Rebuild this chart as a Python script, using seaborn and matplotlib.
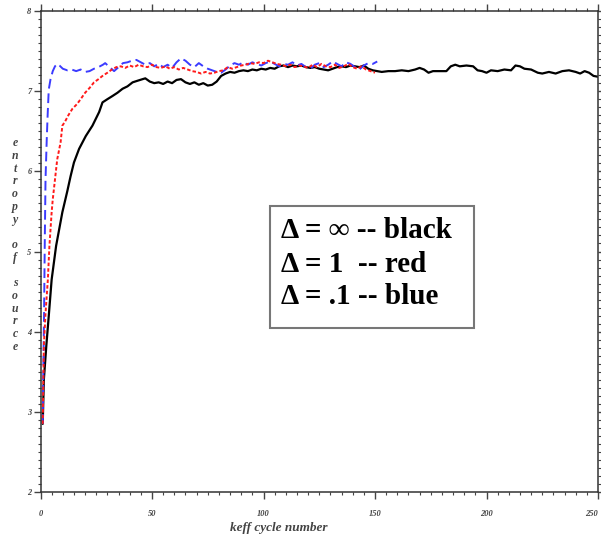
import matplotlib
matplotlib.use("Agg")
import matplotlib.pyplot as plt
from matplotlib.patches import Rectangle
from matplotlib.ticker import MultipleLocator
import seaborn as sns

# 1. DATA

black_x = ([1, 1.5, 2.6, 3.8, 5, 7, 9.8, 12, 13.5, 15, 17.3, 20.3, 23.3, 26.3, 27.8,
            30, 32.3, 34.5, 36.8, 39, 41.3, 43.5, 45.8]
           + list(range(47, 154, 2))
           + [156, 159, 162, 165, 168, 170, 172, 174, 176, 179, 182, 184, 186, 188,
              191, 194, 196, 198, 200, 202, 205, 208, 211, 213, 215, 217, 220, 223,
              225, 228, 231, 234, 237, 240, 242, 244, 246, 248, 250])
black_y = [2.85, 3.4, 3.82, 4.23, 4.65, 5.07, 5.49, 5.75, 5.94, 6.11, 6.28, 6.44, 6.57,
           6.74, 6.86, 6.9, 6.94, 6.98, 7.03, 7.06, 7.11, 7.13, 7.15,
           7.16, 7.12, 7.10, 7.11, 7.09, 7.12, 7.10, 7.14, 7.15, 7.11,
           7.09, 7.11, 7.08, 7.10, 7.07, 7.08, 7.12, 7.19, 7.22, 7.24,
           7.23, 7.25, 7.26, 7.25, 7.27, 7.26, 7.28, 7.27, 7.29, 7.28,
           7.31, 7.32, 7.30, 7.32, 7.31, 7.32, 7.30, 7.29, 7.30, 7.28,
           7.27, 7.26, 7.28, 7.30, 7.31, 7.30, 7.32, 7.31, 7.30, 7.32,
           7.28, 7.26, 7.25, 7.24,
           7.25, 7.25, 7.26, 7.25, 7.27, 7.29, 7.27, 7.23, 7.25, 7.25,
           7.25, 7.31, 7.33, 7.31, 7.32, 7.31, 7.26, 7.25, 7.23, 7.26,
           7.25, 7.27, 7.26, 7.32, 7.31, 7.28, 7.27, 7.23, 7.22, 7.24,
           7.22, 7.25, 7.26, 7.24, 7.22, 7.25, 7.23, 7.19, 7.18]

red_x = ([1, 1.5, 2.25, 3.3, 4, 5, 5.5, 6.5, 7.5, 9, 9.8, 11, 12.5, 14.3, 16.4, 18,
          20, 22, 24, 26, 27.8, 30, 32]
         + list(range(34, 151, 2)))
red_y = [2.85, 3.82, 4.23, 4.65, 5.07, 5.49, 5.65, 5.9, 6.15, 6.36, 6.57, 6.62, 6.7,
         6.78, 6.84, 6.9, 6.98, 7.04, 7.11, 7.15, 7.19, 7.23, 7.27,
         7.30, 7.31, 7.29, 7.32, 7.30, 7.33, 7.31, 7.30, 7.33, 7.30,
         7.29, 7.31, 7.28, 7.30, 7.27, 7.29, 7.27, 7.25, 7.24, 7.22,
         7.24, 7.22, 7.23, 7.25, 7.26, 7.30, 7.28, 7.30, 7.32, 7.33,
         7.35, 7.34, 7.36, 7.35, 7.38, 7.36, 7.34, 7.33, 7.31, 7.33,
         7.30, 7.32, 7.31, 7.29, 7.33, 7.30, 7.34, 7.31, 7.30, 7.33,
         7.29, 7.31, 7.34, 7.30, 7.28, 7.31, 7.27, 7.25, 7.23]

blue_x = ([1, 1.3, 1.6, 1.9, 2.25, 2.8, 3.2, 3.7, 4.5, 5.5, 6.5, 7.5, 8.5, 10, 12, 14,
           16, 18, 20, 22, 24, 26, 28, 29]
          + list(range(31, 152, 2)))
blue_y = [2.85, 3.6, 4.23, 5.07, 5.9, 6.4, 6.7, 7.02, 7.15, 7.25, 7.31, 7.34, 7.32,
          7.28, 7.26, 7.27, 7.25, 7.27, 7.24, 7.25, 7.28, 7.30, 7.33, 7.35,
          7.30, 7.25, 7.30, 7.35, 7.36, 7.38, 7.39, 7.36, 7.33, 7.35,
          7.31, 7.34, 7.30, 7.33, 7.29, 7.36, 7.41, 7.38, 7.33, 7.30,
          7.35, 7.31, 7.28, 7.26, 7.24, 7.23, 7.27, 7.32, 7.35, 7.33,
          7.36, 7.33, 7.36, 7.34, 7.32, 7.35, 7.37, 7.34, 7.31, 7.34,
          7.33, 7.36, 7.32, 7.34, 7.30, 7.28, 7.33, 7.35, 7.30, 7.33,
          7.37, 7.34, 7.31, 7.36, 7.34, 7.30, 7.27, 7.32, 7.35, 7.34, 7.37]

x_ticks = [0, 50, 100, 150, 200, 250]
y_ticks = [2, 3, 4, 5, 6, 7, 8]
legend_lines = ["\u0394 = \u221e -- black", "\u0394 = 1  -- red", "\u0394 = .1 -- blue"]

# 2. FIGURE

sns.set_style("ticks")
plt.rcParams["font.family"] = ["Liberation Serif", "DejaVu Serif"]

W, H = 601, 536
fig = plt.figure(figsize=(W / 100, H / 100), dpi=100)
ax = fig.add_axes([40.5 / W, 44 / H, 557.5 / W, 481 / H])

sns.lineplot(x=black_x, y=black_y, ax=ax, color="black", lw=1.6, sort=False)
sns.lineplot(x=blue_x, y=blue_y, ax=ax, color="#3b3bff", lw=1.4, sort=False,
             linestyle=(0, (5, 2.5)))
sns.lineplot(x=red_x, y=red_y, ax=ax, color="#ff1a1a", lw=1.4, sort=False,
             linestyle=(0, (1.8, 1.1)))

ax.set_xlim(0, 250)
ax.set_ylim(2, 8)
ax.set_xticks(x_ticks)
ax.set_yticks(y_ticks)
ax.xaxis.set_minor_locator(MultipleLocator(5))
ax.yaxis.set_minor_locator(MultipleLocator(0.1))
ax.set_xlabel("")
ax.set_ylabel("")

for s in ax.spines.values():
    s.set_visible(True)
    s.set_linewidth(1.1)
    s.set_color("#333333")

ax.tick_params(which="both", direction="out", top=True, right=True,
               labeltop=False, labelright=False, color="#444444")
ax.tick_params(which="major", length=5, width=1, labelsize=6, labelcolor="#444444")
ax.tick_params(which="minor", length=2.5, width=0.8)
ax.tick_params(axis="x", which="major", pad=8)
ax.tick_params(axis="y", which="major", pad=1.5)
for tick in ax.xaxis.get_major_ticks() + ax.yaxis.get_major_ticks():
    tick.label1.set_fontstyle("italic")
    tick.label1.set_fontweight("bold")
# the last x label sits on the figure edge, keep it inside
ax.xaxis.get_major_ticks()[-1].label1.set_horizontalalignment("right")

# axis titles
fig.text(15 / W, 1 - 245 / H, "\n".join("entropy of source"), ha="center", va="center",
         fontsize=8.5, fontstyle="italic", fontweight="bold", color="#444444",
         linespacing=1.08)
fig.text(230 / W, 1 - 528 / H, "keff cycle number", ha="left", va="center",
         fontsize=9.5, fontstyle="italic", fontweight="bold", color="#444444")

# legend box
fig.patches.append(Rectangle((270 / W, 1 - 328 / H), 204 / W, 122 / H,
                             transform=fig.transFigure, fill=True, facecolor="white",
                             edgecolor="#777777", lw=1.5, zorder=5))
for text, yp in zip(legend_lines, [231, 265, 297]):
    fig.text(281 / W, 1 - yp / H, text, ha="left", va="center", fontsize=21,
             fontweight="bold", color="black", zorder=6)

plt.savefig("out.png", dpi=100)
plt.close()
